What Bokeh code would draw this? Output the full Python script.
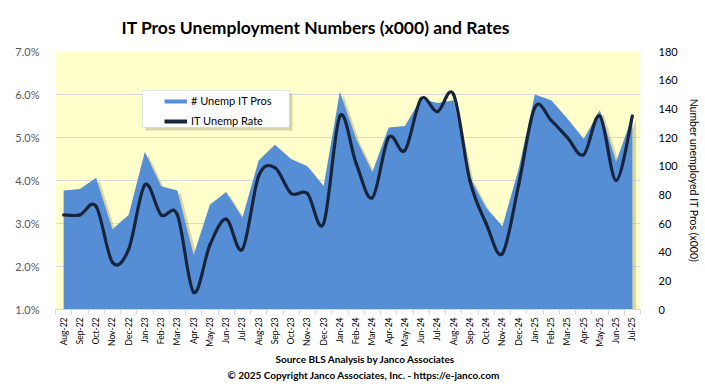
import math
from bokeh.plotting import figure
from bokeh.models import (Range1d, LinearAxis, FixedTicker, PrintfTickFormatter, Legend, LegendItem,
                          ColumnDataSource, Title, BoxAnnotation)
from bokeh.embed import file_html
from bokeh.resources import INLINE

months = ["Aug-22", "Sep-22", "Oct-22", "Nov-22", "Dec-22", "Jan-23", "Feb-23", "Mar-23", "Apr-23",
          "May-23", "Jun-23", "Jul-23", "Aug-23", "Sep-23", "Oct-23", "Nov-23", "Dec-23", "Jan-24",
          "Feb-24", "Mar-24", "Apr-24", "May-24", "Jun-24", "Jul-24", "Aug-24", "Sep-24", "Oct-24",
          "Nov-24", "Dec-24", "Jan-25", "Feb-25", "Mar-25", "Apr-25", "May-25", "Jun-25", "Jul-25"]
unemp_it_pros = [83, 84, 92, 56, 66, 110, 86, 83, 38, 73, 82, 64, 104, 115, 105, 100, 86, 152,
                 119, 96, 127, 128, 147, 144, 146, 92, 71, 58, 98, 150, 146, 133, 119, 139, 103, 135]
it_unemp_rate = [3.2, 3.2, 3.4, 2.1, 2.4, 3.9, 3.2, 3.2, 1.4, 2.5, 3.1, 2.4, 4.1, 4.3, 3.7, 3.7, 3.0, 5.5,
                 4.4, 3.6, 5.0, 4.7, 5.9, 5.6, 6.0, 4.0, 3.0, 2.3, 3.9, 5.7, 5.4, 5.0, 4.6, 5.5, 4.0, 5.5]
rate_ticks = [1, 2, 3, 4, 5, 6, 7]
count_ticks = [0, 20, 40, 60, 80, 100, 120, 140, 160, 180]

FONT = "Lato"
BLUE = "#558ED5"
NAVY = "#16253D"

n = len(months)
xs = list(range(n))

p = figure(width=702, height=385, output_backend="svg", toolbar_location=None,
           x_range=Range1d(-0.5, n - 0.5), y_range=Range1d(1, 7),
           min_border_left=55, min_border_right=52, min_border_top=49, min_border_bottom=76)
p.extra_y_ranges = {"cnt": Range1d(0, 180)}
p.background_fill_color = "#FFFFCC"
p.border_fill_color = "white"
p.outline_line_color = None

# title
p.title.text = "IT Pros Unemployment Numbers (x000) and Rates"
p.title.text_font = FONT
p.title.text_font_size = "17.5px"
p.title.text_font_style = "bold"
p.title.text_color = "#000000"
p.title.align = "left"
p.title.offset = 66
p.title.vertical_align = "bottom"
p.title.standoff = 28

# grid
p.xgrid.visible = False
p.ygrid.ticker = FixedTicker(ticks=rate_ticks)
p.ygrid.grid_line_color = "#D9D9D9"

# area shadow + area
shadow_src = ColumnDataSource(dict(x=[x + 0.22 for x in xs], y1=[0] * n,
                                   y2=[v - 2.5 for v in unemp_it_pros]))
p.varea(x="x", y1="y1", y2="y2", source=shadow_src, fill_color="#A8A070", fill_alpha=0.45,
        y_range_name="cnt")
p.varea(x=xs, y1=[0] * n, y2=unemp_it_pros, fill_color=BLUE, y_range_name="cnt")

# smoothed rate line (Bezier segments through data points)
x0, y0, x1, y1, cx0, cy0, cx1, cy1 = [], [], [], [], [], [], [], []
for i in range(n - 1):
    pm = (xs[max(i - 1, 0)], it_unemp_rate[max(i - 1, 0)])
    pa = (xs[i], it_unemp_rate[i])
    pb = (xs[i + 1], it_unemp_rate[i + 1])
    pn = (xs[min(i + 2, n - 1)], it_unemp_rate[min(i + 2, n - 1)])
    x0.append(pa[0]); y0.append(pa[1]); x1.append(pb[0]); y1.append(pb[1])
    cx0.append(pa[0] + (pb[0] - pm[0]) / 6); cy0.append(pa[1] + (pb[1] - pm[1]) / 6)
    cx1.append(pb[0] - (pn[0] - pa[0]) / 6); cy1.append(pb[1] - (pn[1] - pa[1]) / 6)
bz = ColumnDataSource(dict(x0=x0, y0=y0, x1=x1, y1=y1, cx0=cx0, cy0=cy0, cx1=cx1, cy1=cy1))
p.bezier(x0="x0", y0="y0", x1="x1", y1="y1", cx0="cx0", cy0="cy0", cx1="cx1", cy1="cy1",
         source=bz, line_color=NAVY, line_width=3.2, line_cap="round")

# axes
xa = p.xaxis[0]
xa.ticker = FixedTicker(ticks=xs, minor_ticks=[i - 0.5 for i in range(n + 1)])
xa.major_label_overrides = {i: m for i, m in enumerate(months)}
xa.major_label_orientation = math.pi / 2
xa.major_tick_line_color = None
xa.minor_tick_line_color = "#D9D9D9"
xa.minor_tick_out = 5
xa.minor_tick_in = 0
xa.axis_line_color = "#D9D9D9"
xa.major_label_text_font = FONT
xa.major_label_text_font_size = "8.5px"
xa.major_label_text_color = "#000000"
xa.major_label_standoff = 2

ya = p.yaxis[0]
ya.ticker = FixedTicker(ticks=rate_ticks)
ya.formatter = PrintfTickFormatter(format="%.1f%%")
ya.axis_line_color = None
ya.major_tick_line_color = None
ya.minor_tick_line_color = None
ya.major_label_text_font = FONT
ya.major_label_text_font_size = "11px"
ya.major_label_text_color = "#595959"
ya.major_label_standoff = 10

ra = LinearAxis(y_range_name="cnt", ticker=FixedTicker(ticks=count_ticks),
                axis_label="Number unemployed IT Pros (x000)")
ra.axis_line_color = None
ra.major_tick_line_color = None
ra.minor_tick_line_color = None
ra.major_label_text_font = FONT
ra.major_label_text_font_size = "11px"
ra.major_label_text_color = "#000000"
ra.major_label_standoff = 12
ra.axis_label_text_font = FONT
ra.axis_label_text_font_size = "10.5px"
ra.axis_label_text_font_style = "normal"
ra.axis_label_text_color = "#000000"
ra.axis_label_standoff = 7
p.add_layout(ra, "right")

# legend box with shadow
p.add_layout(BoxAnnotation(left=145, right=292, top=93, bottom=130, left_units="canvas",
                           right_units="canvas", top_units="canvas", bottom_units="canvas",
                           fill_color="#B0AD8A", fill_alpha=0.5, line_color=None))
p.add_layout(BoxAnnotation(left=142, right=289, top=90, bottom=127, left_units="canvas",
                           right_units="canvas", top_units="canvas", bottom_units="canvas",
                           fill_color="white", fill_alpha=1.0, line_color="#9DB7D5", line_width=1))

proxy_a = p.line(x=xs[:1], y=it_unemp_rate[:1], line_color=BLUE, line_width=4)
proxy_r = p.line(x=xs[:1], y=it_unemp_rate[:1], line_color=NAVY, line_width=4)
leg = Legend(items=[LegendItem(label="# Unemp IT Pros", renderers=[proxy_a]),
                    LegendItem(label="IT Unemp Rate", renderers=[proxy_r])],
             location=(109, 182), orientation="vertical",
             background_fill_alpha=0, border_line_color=None,
             label_text_font=FONT, label_text_font_size="11px", label_text_color="#000000",
             glyph_width=23, glyph_height=12, label_height=12, spacing=7, padding=3,
             label_standoff=4, margin=0)
p.add_layout(leg)

# footer
for txt, off, sd in [("Source BLS Analysis by Janco Associates", 220, 3),
                     ("\u00a9 2025 Copyright Janco Associates, Inc. - https://e-janco.com", 172, 0)]:
    p.add_layout(Title(text=txt, align="left", offset=off, text_font=FONT, text_font_size="10px",
                       text_font_style="bold", text_color="#000000", standoff=sd), "below")

open("out.html", "w").write(file_html(p, INLINE))
